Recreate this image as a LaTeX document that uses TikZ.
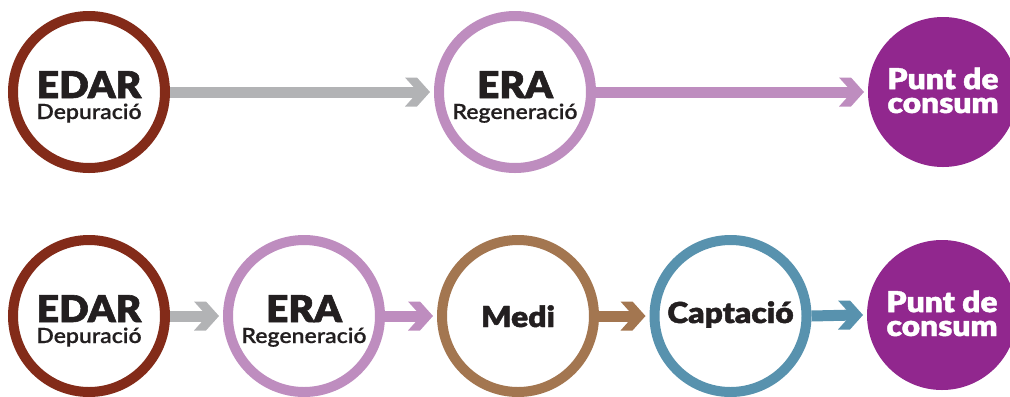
\documentclass[tikz,border=0pt]{standalone}
\usepackage{fontspec}
\setmainfont{Lato}
\newfontfamily\headfont{Lato Black}[FakeBold=1.6, FakeStretch=1.06]
\newfontfamily\wordfont{Lato Black}[FakeBold=1.4, FakeStretch=1.1]
\newfontfamily\subfont{Lato Semibold}[FakeBold=0.4, FakeStretch=1.1]
\usetikzlibrary{calc}

\definecolor{edarred}{HTML}{832B19}
\definecolor{flowgray}{HTML}{B2B3B5}
\definecolor{eralilac}{HTML}{BE8DBF}
\definecolor{medibrown}{HTML}{A37650}
\definecolor{captblue}{HTML}{5892AE}
\definecolor{puntpurple}{HTML}{91278E}
\definecolor{ink}{HTML}{231F20}

\tikzset{
  ring/.style={circle, draw=#1, line width=10bp, minimum size=152bp, inner sep=0pt, fill=white},
  dot/.style={circle, fill=puntpurple, minimum size=150bp, inner sep=0pt, outer sep=0pt},
  head/.style={font=\headfont\fontsize{37}{37}\selectfont, text=ink, anchor=base, inner sep=0pt},
  sub/.style={font=\subfont\fontsize{21}{21}\selectfont, text=ink, anchor=base, inner sep=0pt},
  word/.style={font=\wordfont\fontsize{29}{29}\selectfont, text=ink, anchor=base, inner sep=0pt},
  punt/.style={font=\wordfont\fontsize{29}{24}\selectfont, text=white, align=center, anchor=base, inner sep=0pt},
  shaft/.style={line width=11bp, draw=#1}
}

% thick shaft from one node to the next, ending in a chevron head
\newcommand\flowarrow[3]{%
  \coordinate (tip-#1-#2) at ([xshift=-4bp]#2.west);
  \draw[shaft=#3] (#1.east) -- ([xshift=-8bp]tip-#1-#2);
  \fill[#3] (tip-#1-#2) -- ++(-13,-14.5) -- ++(-12,0) -- ++(13,14.5)
        -- ++(-13,14.5) -- ++(12,0) -- cycle;
}

\begin{document}
\begin{tikzpicture}[x=1bp, y=-1bp]
  \useasboundingbox (0,0) rectangle (1010,396);

  % ---- upper chain: EDAR -> ERA -> point of use
  \node[ring=edarred] (edarA) at (89,92) {};
  \node[ring=eralilac] (eraA) at (515,92) {};
  \node[dot] (puntA) at (943,92) {};

  \flowarrow{edarA}{eraA}{flowgray}
  \flowarrow{eraA}{puntA}{eralilac}

  \node[head] (edarAh) at ($(edarA.center)+(0,6)$) {EDAR};
  \node[sub]  (edarAs) at ($(edarA.center)+(0,27)$) {Depuració};
  \node[head] (eraAh)  at ($(eraA.center)+(0,6)$) {ERA};
  \node[sub]  (eraAs)  at ($(eraA.center)+(0,27)$) {Regeneració};
  % the base anchor of a two-line node sits on its last line
  \node[punt] (puntAt) at ($(puntA.center)+(0,21)$) {Punt de\\consum};

  % ---- lower chain: EDAR -> ERA -> environment -> intake -> point of use
  \node[ring=edarred]   (edarB) at (89,316) {};
  \node[ring=eralilac]  (eraB)  at (304,316) {};
  \node[ring=medibrown] (medi)  at (518,316) {};
  \node[ring=captblue]  (capt)  at (730.5,316) {};
  \node[dot]            (puntB) at (942,315) {};

  \flowarrow{edarB}{eraB}{flowgray}
  \flowarrow{eraB}{medi}{eralilac}
  \flowarrow{medi}{capt}{medibrown}
  \flowarrow{capt}{puntB}{captblue}

  \node[head] (edarBh) at ($(edarB.center)+(0,6)$) {EDAR};
  \node[sub]  (edarBs) at ($(edarB.center)+(0,27)$) {Depuració};
  \node[head] (eraBh)  at ($(eraB.center)+(0,6)$) {ERA};
  \node[sub]  (eraBs)  at ($(eraB.center)+(0,27)$) {Regeneració};
  \node[word] (medit)  at ($(medi.center)+(0,11)$) {Medi};
  \node[word] (captt)  at ($(capt.center)+(0,7)$) {Captació};
  \node[punt] (puntBt) at ($(puntB.center)+(0,21)$) {Punt de\\consum};
\end{tikzpicture}
\end{document}
